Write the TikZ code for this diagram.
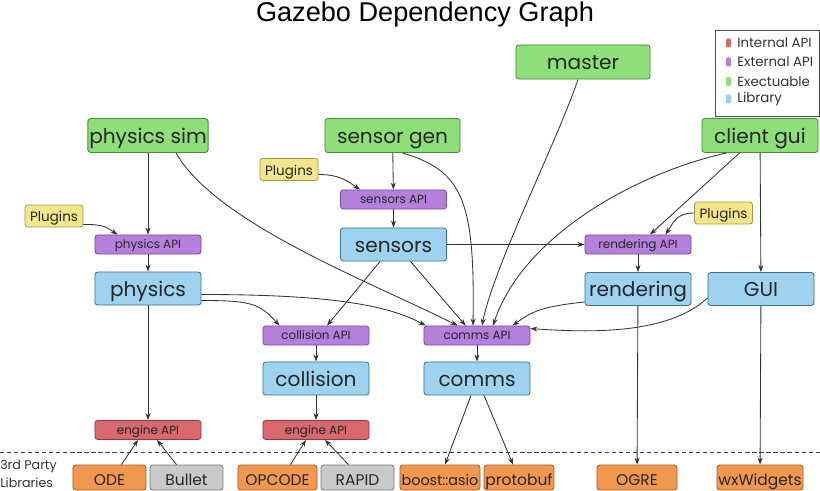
\documentclass[tikz,border=0pt]{standalone}
\usepackage{fontspec}
\setmainfont{Poppins}
\newfontfamily\titlefont{Liberation Sans}
\usepackage{tikz}
\usetikzlibrary{arrows.meta,calc}
\usepackage{xcolor}
\definecolor{exefill}{HTML}{8EDE7A}
\definecolor{exeline}{HTML}{4A8A3C}
\definecolor{libfill}{HTML}{9DD3EF}
\definecolor{libline}{HTML}{3E7393}
\definecolor{apifill}{HTML}{B580DB}
\definecolor{apiline}{HTML}{7B4C9C}
\definecolor{intfill}{HTML}{D9686E}
\definecolor{intline}{HTML}{8E3B3E}
\definecolor{plugfill}{HTML}{F3E58C}
\definecolor{plugline}{HTML}{A69A45}
\definecolor{partyfill}{HTML}{F0984F}
\definecolor{partyline}{HTML}{A55D22}
\definecolor{gryfill}{HTML}{C9C9C9}
\definecolor{gryline}{HTML}{7A7A7A}
\definecolor{wire}{HTML}{333333}

\tikzset{
  box/.style={draw, rounded corners=2pt, line width=0.6pt, inner sep=1pt, text=black!85},
  exebox/.style={box, fill=exefill, draw=exeline, minimum height=0.85cm,
    text height=11pt, text depth=0pt, font=\fontsize{14.3}{16}\selectfont},
  libbox/.style={box, fill=libfill, draw=libline, minimum width=2.65cm, minimum height=0.825cm,
    text height=11pt, text depth=0pt, font=\fontsize{14.3}{16}\selectfont},
  apibox/.style={box, fill=apifill, draw=apiline, minimum width=2.65cm, minimum height=0.475cm,
    text height=6.5pt, text depth=0.5pt, font=\fontsize{8.5}{10}\selectfont},
  intbox/.style={apibox, fill=intfill, draw=intline},
  plugbox/.style={box, fill=plugfill, draw=plugline, minimum width=1.45cm, minimum height=0.55cm,
    text height=8.5pt, text depth=0.5pt, font=\fontsize{9.6}{11}\selectfont},
  partybox/.style={box, fill=partyfill, draw=partyline, minimum height=0.625cm,
    text height=12pt, text depth=0pt, font=\fontsize{11}{13}\selectfont},
  partygray/.style={partybox, fill=gryfill, draw=gryline},
  legtext/.style={anchor=west, inner sep=0pt, text=black!80, font=\fontsize{9.5}{11}\selectfont},
  dep/.style={draw=wire, line width=0.6pt, -{Stealth[length=5pt,width=3.6pt]}},
}

\begin{document}
\begin{tikzpicture}[x=0.025cm, y=-0.025cm]
  \fill[white] (0,0) rectangle (820,491);
  \useasboundingbox (0,0) rectangle (820,491);

  % Title
  \node[font=\titlefont\fontsize{19.3}{22}\selectfont] (title) at (425,14) {Gazebo Dependency Graph};

  % Legend
  \draw[black!70, line width=0.6pt] (715,30) rectangle (819,116);
  \fill[intfill, rounded corners=1pt] (726,38.5) rectangle (731,47.5);
  \fill[apifill, rounded corners=1pt] (726,57.5) rectangle (731,66.5);
  \fill[exefill, rounded corners=1pt] (726,77) rectangle (731,86);
  \fill[libfill, rounded corners=1pt] (726,94.5) rectangle (731,103.5);
  \node[legtext] (leg1) at (737,43) {Internal API};
  \node[legtext] (leg2) at (737,62) {External API};
  \node[legtext] (leg3) at (737,81.5) {Exectuable};
  \node[legtext] (leg4) at (737,99) {Library};

  % Executables
  \node[exebox, minimum width=3.35cm] (master) at (583,62) {master};
  \node[exebox, minimum width=3.0cm] (psim) at (148,135.5) {physics sim};
  \node[exebox, minimum width=3.375cm] (sgen) at (392.5,135.5) {sensor gen};
  \node[exebox, minimum width=2.9cm] (cgui) at (760,135.5) {client gui};

  % Plugins
  \node[plugbox] (plugA) at (54,216) {Plugins};
  \node[plugbox] (plugB) at (289,169.5) {Plugins};
  \node[plugbox] (plugC) at (723.5,213) {Plugins};

  % APIs and libraries
  \node[apibox] (physapi) at (148,244.5) {physics API};
  \node[libbox] (physics) at (148,288.5) {physics};
  \node[apibox] (sensapi) at (393.5,199.5) {sensors API};
  \node[libbox] (sensors) at (393.5,244.5) {sensors};
  \node[apibox] (rendapi) at (638,244.5) {rendering API};
  \node[libbox] (rendering) at (638,289) {rendering};
  \node[libbox] (gui) at (761,289) {GUI};
  \node[apibox] (collapi) at (316,335.5) {collision API};
  \node[libbox] (collision) at (316,378.5) {collision};
  \node[apibox] (commsapi) at (477,335.5) {comms API};
  \node[libbox] (comms) at (477,378.5) {comms};
  \node[intbox] (engA) at (148,430) {engine API};
  \node[intbox] (engB) at (316,430) {engine API};

  % 3rd party line
  \draw[black!75, line width=0.6pt, dash pattern=on 3pt off 2pt] (0,452) -- (820,452);
  \node[anchor=west, inner sep=0pt, text=black!80, font=\fontsize{9}{11}\selectfont] (party1) at (0,466) {3rd Party};
  \node[anchor=west, inner sep=0pt, text=black!80, font=\fontsize{9}{11}\selectfont] (party2) at (0,483) {Libraries};

  \node[partybox, minimum width=1.825cm] (ode) at (109.5,477.5) {ODE};
  \node[partygray, minimum width=1.825cm] (bullet) at (186.5,477.5) {Bullet};
  \node[partybox, minimum width=1.975cm] (opcode) at (277.5,477.5) {OPCODE};
  \node[partygray, minimum width=1.825cm] (rapid) at (357.5,477.5) {RAPID};
  \node[partybox, minimum width=2.0cm, font=\fontsize{10.2}{12}\selectfont] (boost) at (440,477.5) {boost::asio};
  \node[partybox, minimum width=1.7cm] (protobuf) at (519,477.5) {protobuf};
  \node[partybox, minimum width=2.0cm] (ogre) at (637,477.5) {OGRE};
  \node[partybox, minimum width=2.0cm] (wx) at (760,477.5) {wxWidgets};

  % physics column
  \draw[dep] (psim) -- (physapi);
  \draw[dep] (physapi) -- (physics);
  \draw[dep] (physics) -- (engA);
  \draw[dep] ($(plugA.south east)+(0,-3)$) .. controls +(20,0) and +(-12,-8) .. ($(physapi.north west)+(23,0)$);
  \draw[dep] ($(psim.south)+(28,0)$) .. controls +(40,70) and +(-90,-45) .. ($(commsapi.north west)+(34,0)$);
  \draw[dep] ($(physics.east)+(0,12)$) .. controls +(50,0) and +(-20,-22) .. ($(collapi.north west)+(17,0)$);
  \draw[dep] ($(physics.east)+(0,6)$) .. controls +(120,0) and +(-40,-22) .. ($(commsapi.north west)+(2,0)$);

  % sensors column
  \draw[dep] (sgen) -- (sensapi);
  \draw[dep] (sensapi) -- (sensors);
  \draw[dep] ($(plugB.east)+(0,5)$) .. controls +(22,0) and +(-12,-8) .. ($(sensapi.north west)+(20,0)$);
  \draw[dep] ($(sgen.south)+(10,0)$) .. controls +(60,18) and +(2,-126) .. ($(commsapi.north)+(-4,0)$);
  \draw[dep] ($(sensors.south west)+(40,0)$) -- ($(collapi.north)+(11,0)$);
  \draw[dep] ($(sensors.south)+(17,0)$) -- ($(commsapi.north west)+(42,0)$);
  \draw[dep] (sensors) -- (rendapi);

  % master
  \draw[dep] ($(master.south)+(-5,0)$) .. controls +(-20,60) and +(12,-60) .. ($(commsapi.north)+(5,0)$);

  % client gui
  \draw[dep] ($(cgui.south west)+(25,0)$) .. controls +(-90,20) and +(30,-90) .. ($(commsapi.north)+(16,0)$);
  \draw[dep] ($(cgui.south west)+(38,0)$) -- ($(rendapi.north)+(12,0)$);
  \draw[dep] (plugC.west) .. controls +(-18,0) and +(8,-12) .. ($(rendapi.north east)+(-26,0)$);
  \draw[dep] (cgui) -- (gui);
  \draw[dep] (rendapi) -- (rendering);
  \draw[dep] ($(rendering.south west)+(0,-4)$) .. controls +(-45,5) and +(20,-14) .. ($(commsapi.north east)+(-18,0)$);
  \draw[dep] ($(gui.south west)+(0,-8)$) .. controls +(-40,37) and +(59,4) .. ($(commsapi.north east)+(0,3)$);
  \draw[dep] (rendering) -- (ogre);
  \draw[dep] (gui) -- (wx);

  % collision and comms
  \draw[dep] (collapi) -- (collision);
  \draw[dep] (collision) -- (engB);
  \draw[dep] (commsapi) -- (comms);
  \draw[dep] ($(comms.south)+(-6,0)$) -- ($(boost.north)+(5,0)$);
  \draw[dep] ($(comms.south)+(7,0)$) -- ($(protobuf.north)+(-6,0)$);

  % 3rd party into engine APIs
  \draw[dep] ($(ode.north)+(12,0)$) -- ($(engA.south)+(-10,0)$);
  \draw[dep] ($(bullet.north)+(-10,0)$) -- ($(engA.south)+(9,0)$);
  \draw[dep] ($(opcode.north)+(13,0)$) -- ($(engB.south)+(-10,0)$);
  \draw[dep] ($(rapid.north)+(-9,0)$) -- ($(engB.south)+(9,0)$);
\end{tikzpicture}
\end{document}
